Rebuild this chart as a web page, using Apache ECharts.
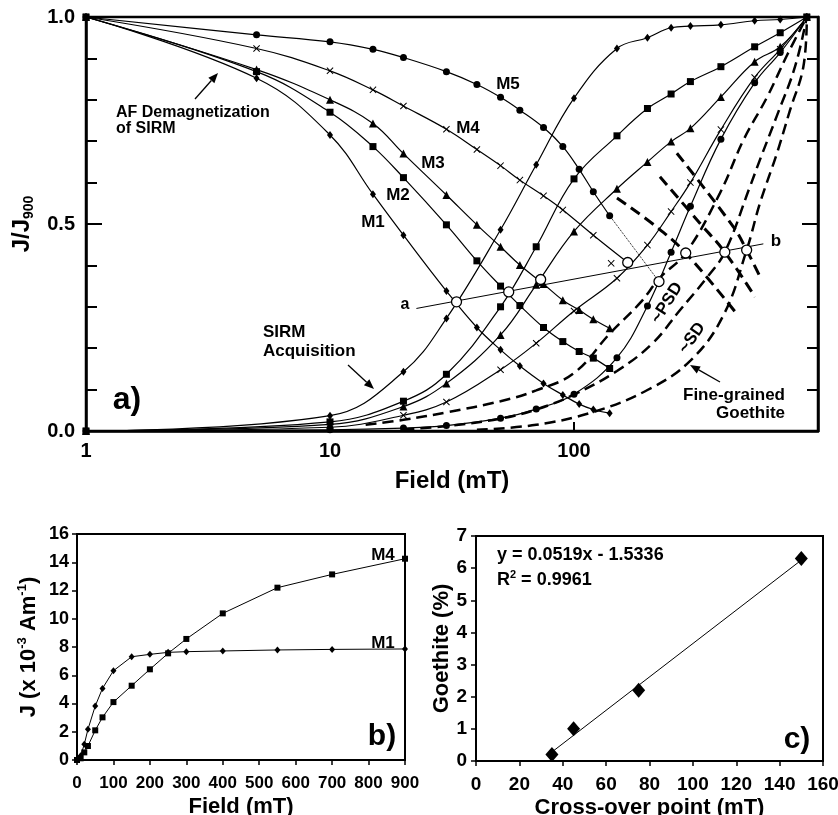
<!DOCTYPE html>
<html lang="en">
<head>
<meta charset="UTF-8">
<title>SIRM acquisition / AF demagnetization</title>
<script src="https://cdn.jsdelivr.net/npm/echarts@6/dist/echarts.min.js"></script>
<style>html,body{margin:0;padding:0;background:#fff}</style>
</head>
<body>
<div id="chart" style="width:838px;height:815px"></div>
<script>
var FONT = '"Liberation Sans", Arial, sans-serif';

// a) AF demagnetization of SIRM (J/J900)
var afField = [1, 5, 10, 15, 20, 30, 40, 50, 60, 75, 90, 105, 120, 140];
var afM1 = [1, 0.852, 0.715, 0.572, 0.473, 0.338, 0.25, 0.196, 0.157, 0.115, 0.087, 0.065, 0.052, 0.043];
var afM2 = [1, 0.868, 0.77, 0.687, 0.612, 0.498, 0.411, 0.35, 0.303, 0.25, 0.216, 0.192, 0.176, 0.151];
var afM3 = [1, 0.873, 0.80, 0.743, 0.67, 0.57, 0.498, 0.445, 0.401, 0.355, 0.316, 0.292, 0.27, 0.248];
var afM5 = [1, 0.957, 0.940, 0.922, 0.902, 0.868, 0.837, 0.806, 0.775, 0.733, 0.687, 0.632, 0.578, 0.52];
var afM4Field = [1, 5, 10, 15, 20, 30, 40, 50, 60, 75, 90, 120];
var afM4 = [1, 0.924, 0.870, 0.824, 0.785, 0.729, 0.68, 0.641, 0.606, 0.568, 0.534, 0.473];

// a) SIRM acquisition
var irmField = [1, 10, 20, 30, 50, 70, 100, 150, 200, 250, 300, 400, 550, 700, 900];
var irmM1 = [0, 0.037, 0.143, 0.272, 0.486, 0.643, 0.804, 0.924, 0.95, 0.974, 0.978, 0.981, 0.991, 0.994, 1];
var irmM2 = [0, 0.022, 0.072, 0.137, 0.30, 0.445, 0.609, 0.713, 0.779, 0.814, 0.844, 0.88, 0.928, 0.962, 1];
var irmM3 = [0, 0.016, 0.059, 0.115, 0.232, 0.353, 0.482, 0.585, 0.65, 0.699, 0.731, 0.807, 0.892, 0.928, 1];
var irmM4 = [0, 0.009, 0.038, 0.07, 0.148, 0.212, 0.29, 0.369, 0.449, 0.53, 0.60, 0.728, 0.854, 0.922, 1];
var irmM5 = [0, 0.003, 0.007, 0.013, 0.031, 0.053, 0.089, 0.177, 0.302, 0.432, 0.543, 0.705, 0.841, 0.914, 1];

// a) fine-grained goethite curves (dashed): acquisition and demagnetization
var gtAcqA = [[14, 0.015], [20, 0.027], [30, 0.045], [50, 0.072], [70, 0.098], [100, 0.14], [140, 0.235], [187, 0.31], [225, 0.37], [287, 0.43], [396, 0.574], [495, 0.703], [619, 0.807], [750, 0.91], [900, 1]];
var gtAcqB = [[20, 0.004], [30, 0.012], [50, 0.03], [70, 0.052], [100, 0.088], [150, 0.145], [210, 0.212], [270, 0.29], [350, 0.37], [415, 0.432], [526, 0.59], [578, 0.655], [677, 0.76], [805, 0.88], [900, 1]];
var gtAcqC = [[40, 0.003], [70, 0.015], [120, 0.046], [200, 0.099], [300, 0.17], [410, 0.28], [510, 0.437], [578, 0.55], [678, 0.67], [768, 0.775], [871, 0.88], [900, 1]];
var gtAfA = [[150, 0.563], [218, 0.493], [287, 0.43], [466, 0.282]];
var gtAfB = [[225, 0.614], [328, 0.502], [415, 0.432], [552, 0.324]];
var gtAfC = [[264, 0.671], [450, 0.493], [510, 0.437], [578, 0.373]];

// a) cross-over points and the a-b line
var crossField = [33, 54, 73, 166, 223, 287, 415, 510];
var crossValue = [0.312, 0.336, 0.366, 0.407, 0.361, 0.43, 0.432, 0.437];
var abLine = [[22.6, 0.296], [597, 0.452]];
var m5Dotted = [[140, 0.52], [223, 0.361]];
var m4Extra = [[142, 0.405]];

// b) J (x 10^-3 A/m) vs field
var bField = [0, 10, 20, 30, 50, 70, 100, 150, 200, 250, 300, 400, 550, 700, 900];
var bM1 = [0, 0.3, 1.11, 2.17, 3.82, 5.07, 6.32, 7.31, 7.48, 7.62, 7.67, 7.72, 7.79, 7.83, 7.86];
var bM4 = [0, 0.12, 0.54, 0.99, 2.1, 3.02, 4.1, 5.26, 6.42, 7.55, 8.57, 10.38, 12.2, 13.14, 14.25];

// c) goethite content vs cross-over point
var cCross = [35, 45, 75, 150];
var cGoethite = [0.2, 1.0, 2.2, 6.3];
var cTrend = [[35, 0.28], [150, 6.25]];

var XMARK = 'path://M0,1L1,0L5,4L9,0L10,1L6,5L10,9L9,10L5,6L1,10L0,9L4,5Z';

function pairs(xs, ys) {
    return xs.map(function (x, i) { return [x, ys[i]]; });
}

function curve(data, sym, size) {
    return {
        type: 'line', xAxisIndex: 0, yAxisIndex: 0, data: data,
        smooth: 0.4, symbol: sym, symbolSize: size,
        lineStyle: {color: '#000', width: 1.2}, itemStyle: {color: '#000'}, z: 3
    };
}

function dashed(data, width) {
    return {
        type: 'line', xAxisIndex: 0, yAxisIndex: 0, data: data,
        smooth: 0.4, symbol: 'none',
        lineStyle: {color: '#000', width: width, type: [11, 6]}, z: 2
    };
}

function txt(s, x, y, size, align, extra) {
    var el = {
        type: 'text', x: x, y: y, z: 100,
        style: {
            text: s, fill: '#000', fontSize: size, fontWeight: 'bold', fontFamily: FONT,
            textAlign: align || 'center', textVerticalAlign: 'middle'
        }
    };
    if (extra) {
        for (var k in extra) el.style[k] = extra[k];
    }
    return el;
}

function arrow(x1, y1, x2, y2) {
    var a = Math.atan2(y2 - y1, x2 - x1), h = 10, w = 4;
    var bx = x2 - h * Math.cos(a), by = y2 - h * Math.sin(a);
    return [
        {type: 'line', z: 100, shape: {x1: x1, y1: y1, x2: bx, y2: by}, style: {stroke: '#000', lineWidth: 1.3}},
        {type: 'polygon', z: 100, shape: {points: [[x2, y2], [bx + w * Math.sin(a), by - w * Math.cos(a)], [bx - w * Math.sin(a), by + w * Math.cos(a)]]}, style: {fill: '#000'}}
    ];
}

var axisText = {color: '#000', fontWeight: 'bold', fontFamily: FONT};
function merge(a, b) { var o = {}; for (var k in a) o[k] = a[k]; for (var j in b) o[j] = b[j]; return o; }

var m4Data = pairs(afM4Field, afM4);
m4Data.push({value: [crossField[3], crossValue[3]], symbol: 'none'});

var graphics = [
    txt('M5', 508, 84, 17), txt('M4', 468, 128, 17), txt('M3', 433, 163, 17),
    txt('M2', 398, 195, 17), txt('M1', 373, 222, 17),
    txt('AF Demagnetization\nof SIRM', 116, 121, 16, 'left', {lineHeight: 16}),
    txt('SIRM\nAcquisition', 263, 342, 17, 'left', {lineHeight: 19}),
    txt('Fine-grained\nGoethite', 785, 404, 17, 'right', {lineHeight: 18}),
    {type: 'text', x: 667, y: 303, rotation: 58 * Math.PI / 180, z: 100,
        style: {text: '~PSD', fill: '#000', fontSize: 17, fontWeight: 'bold', fontFamily: FONT, textAlign: 'center', textVerticalAlign: 'middle'}},
    {type: 'text', x: 692, y: 338, rotation: 55 * Math.PI / 180, z: 100,
        style: {text: '~SD', fill: '#000', fontSize: 17, fontWeight: 'bold', fontFamily: FONT, textAlign: 'center', textVerticalAlign: 'middle'}},
    txt('a', 405, 305, 16), txt('b', 776, 241, 17),
    txt('a)', 127, 400, 32), txt('b)', 382, 737, 30), txt('c)', 797, 740, 30),
    txt('M4', 383, 555, 17), txt('M1', 383, 643, 17),
    txt('y = 0.0519x - 1.5336', 497, 555, 18, 'left'),
    {type: 'text', x: 497, y: 580, z: 100, style: {
        text: '{n|R}{s|2}{n| = 0.9961}', textAlign: 'left', textVerticalAlign: 'middle',
        rich: {
            n: {fontSize: 18, fontWeight: 'bold', fontFamily: FONT, fill: '#000', lineHeight: 22},
            s: {fontSize: 11, fontWeight: 'bold', fontFamily: FONT, fill: '#000', lineHeight: 12, verticalAlign: 'top'}
        }
    }}
].concat(arrow(195, 99, 218, 73), arrow(348, 365, 374, 389), arrow(720, 382, 690, 365));

var chart = echarts.init(document.getElementById('chart'));
var option = {
    backgroundColor: '#fff',
    animation: false,
    grid: [
        {left: 86, top: 17, width: 732, height: 414, show: true, borderColor: '#000', borderWidth: 2.5, outerBoundsMode: 'none'},
        {left: 77, top: 534, width: 328, height: 226, show: true, borderColor: '#000', borderWidth: 2, outerBoundsMode: 'none'},
        {left: 476, top: 536, width: 347, height: 225, show: true, borderColor: '#000', borderWidth: 2, outerBoundsMode: 'none'}
    ],
    xAxis: [
        {
            gridIndex: 0, type: 'log', logBase: 10, min: 1, max: 1000,
            axisLine: {lineStyle: {color: '#000', width: 2.5}},
            axisTick: {inside: true, length: 9, lineStyle: {color: '#000', width: 2}},
            axisLabel: merge(axisText, {fontSize: 20, margin: 10, formatter: function (v) {
                var r = Math.round(v); return r >= 1000 ? '' : String(r);
            }}),
            splitLine: {show: false},
            name: 'Field (mT)', nameLocation: 'middle', nameGap: 38,
            nameTextStyle: merge(axisText, {fontSize: 24})
        },
        {
            gridIndex: 1, type: 'value', min: 0, max: 900, interval: 100,
            axisLine: {lineStyle: {color: '#000', width: 2}},
            axisTick: {length: 5, lineStyle: {color: '#000', width: 1.5}},
            axisLabel: merge(axisText, {fontSize: 17, margin: 15}),
            splitLine: {show: false},
            name: 'Field (mT)', nameLocation: 'middle', nameGap: 36,
            nameTextStyle: merge(axisText, {fontSize: 22})
        },
        {
            gridIndex: 2, type: 'value', min: 0, max: 160, interval: 20,
            axisLine: {lineStyle: {color: '#000', width: 2}},
            axisTick: {length: 5, lineStyle: {color: '#000', width: 1.5}},
            axisLabel: merge(axisText, {fontSize: 19, margin: 14}),
            splitLine: {show: false},
            name: 'Cross-over point (mT)', nameLocation: 'middle', nameGap: 36,
            nameTextStyle: merge(axisText, {fontSize: 22})
        }
    ],
    yAxis: [
        {
            gridIndex: 0, type: 'value', min: 0, max: 1, interval: 0.5,
            axisLine: {lineStyle: {color: '#000', width: 2.5}},
            axisTick: {inside: true, length: 16, lineStyle: {color: '#000', width: 2}},
            minorTick: {show: true, splitNumber: 5, length: 11, lineStyle: {color: '#000', width: 2}},
            axisLabel: merge(axisText, {fontSize: 20, margin: 11, formatter: function (v) { return v.toFixed(1); }}),
            splitLine: {show: false}, minorSplitLine: {show: false},
            name: '{m|J/J}{s|900}', nameLocation: 'middle', nameRotate: 90, nameGap: 44,
            nameTextStyle: {rich: {
                m: merge(axisText, {fontSize: 24, lineHeight: 28}),
                s: merge(axisText, {fontSize: 14, lineHeight: 16, verticalAlign: 'bottom'})
            }}
        },
        {
            gridIndex: 0, type: 'value', min: 0, max: 1, interval: 0.5, position: 'right',
            axisLine: {lineStyle: {color: '#000', width: 2.5}},
            axisTick: {inside: true, length: 16, lineStyle: {color: '#000', width: 2}},
            minorTick: {show: true, splitNumber: 5, length: 11, lineStyle: {color: '#000', width: 2}},
            axisLabel: {show: false}, splitLine: {show: false}, minorSplitLine: {show: false}
        },
        {
            gridIndex: 1, type: 'value', min: 0, max: 16, interval: 2,
            axisLine: {lineStyle: {color: '#000', width: 2}},
            axisTick: {length: 5, lineStyle: {color: '#000', width: 1.5}},
            axisLabel: merge(axisText, {fontSize: 18, margin: 8}),
            splitLine: {show: false},
            name: '{n|J (x 10}{u|-3}{n| Am}{u|-1}{n|)}', nameLocation: 'middle', nameRotate: 90, nameGap: 35,
            nameTextStyle: {rich: {
                n: merge(axisText, {fontSize: 22, lineHeight: 26}),
                u: merge(axisText, {fontSize: 13, lineHeight: 14, verticalAlign: 'top'})
            }}
        },
        {
            gridIndex: 2, type: 'value', min: 0, max: 7, interval: 1,
            axisLine: {lineStyle: {color: '#000', width: 2}},
            axisTick: {length: 5, lineStyle: {color: '#000', width: 1.5}},
            axisLabel: merge(axisText, {fontSize: 19, margin: 9}),
            splitLine: {show: false},
            name: 'Goethite (%)', nameLocation: 'middle', nameRotate: 90, nameGap: 22,
            nameTextStyle: merge(axisText, {fontSize: 22})
        }
    ],
    series: [
        // goethite model curves
        dashed(gtAcqA, 2.5), dashed(gtAcqB, 2.5), dashed(gtAcqC, 2.5),
        dashed(gtAfA, 3), dashed(gtAfB, 3), dashed(gtAfC, 3),
        // AF demagnetization
        curve(pairs(afField, afM1), 'diamond', [6, 8]),
        curve(pairs(afField, afM2), 'rect', 7),
        curve(pairs(afField, afM3), 'triangle', 8),
        curve(m4Data, XMARK, 7),
        curve(pairs(afField, afM5), 'circle', 7),
        // SIRM acquisition
        curve(pairs(irmField, irmM1), 'diamond', [6, 8]),
        curve(pairs(irmField, irmM2), 'rect', 7),
        curve(pairs(irmField, irmM3), 'triangle', 8),
        curve(pairs(irmField, irmM4), XMARK, 7),
        curve(pairs(irmField, irmM5), 'circle', 7),
        {
            type: 'line', xAxisIndex: 0, yAxisIndex: 0, data: m5Dotted, symbol: 'none',
            lineStyle: {color: '#000', width: 1, type: 'dotted'}
        },
        {
            type: 'scatter', xAxisIndex: 0, yAxisIndex: 0, data: m4Extra, symbol: XMARK, symbolSize: 7,
            itemStyle: {color: '#000', opacity: 1}
        },
        {
            type: 'line', xAxisIndex: 0, yAxisIndex: 0, data: abLine, symbol: 'none',
            lineStyle: {color: '#000', width: 1}, z: 4
        },
        {
            type: 'scatter', xAxisIndex: 0, yAxisIndex: 0, data: pairs(crossField, crossValue),
            symbol: 'circle', symbolSize: 10,
            itemStyle: {color: '#fff', borderColor: '#000', borderWidth: 1.3, opacity: 1}, z: 6
        },
        // b)
        {
            type: 'line', xAxisIndex: 1, yAxisIndex: 2, data: pairs(bField, bM4), symbol: 'rect', symbolSize: 6,
            lineStyle: {color: '#000', width: 1}, itemStyle: {color: '#000'}
        },
        {
            type: 'line', xAxisIndex: 1, yAxisIndex: 2, data: pairs(bField, bM1), symbol: 'diamond', symbolSize: [6, 7],
            lineStyle: {color: '#000', width: 1}, itemStyle: {color: '#000'}
        },
        // c)
        {
            type: 'line', xAxisIndex: 2, yAxisIndex: 3, data: cTrend, symbol: 'none',
            lineStyle: {color: '#000', width: 1}
        },
        {
            type: 'scatter', xAxisIndex: 2, yAxisIndex: 3, data: pairs(cCross, cGoethite),
            symbol: 'diamond', symbolSize: [13, 15], itemStyle: {color: '#000', opacity: 1}
        }
    ],
    graphic: graphics
};
chart.setOption(option);
</script>
</body>
</html>
